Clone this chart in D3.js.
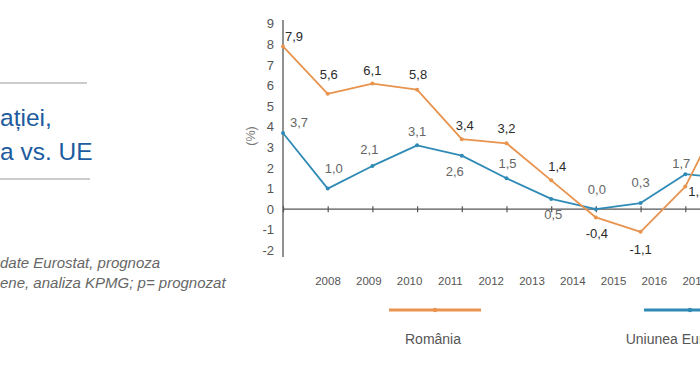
<!DOCTYPE html>
<html><head><meta charset="utf-8">
<script src="https://cdn.jsdelivr.net/npm/d3@7"></script>
<style>
html,body{margin:0;padding:0;background:#fff;overflow:hidden;}
svg{display:block;font-family:"Liberation Sans",Arial,sans-serif;}
</style></head>
<body>
<svg id="c" width="700" height="368"></svg>
<script>
// ---- data ----
const years = [2008, 2009, 2010, 2011, 2012, 2013, 2014, 2015, 2016, 2017, 2018];
const romania = [7.9, 5.6, 6.1, 5.8, 3.4, 3.2, 1.4, -0.4, -1.1, 1.1, 5.4];
const eu = [3.7, 1.0, 2.1, 3.1, 2.6, 1.5, 0.5, 0.0, 0.3, 1.7, 1.5];
const yTicks = [-2, -1, 0, 1, 2, 3, 4, 5, 6, 7, 8, 9];
const xTickLabels = ["2008", "2009", "2010", "2011", "2012", "2013", "2014", "2015", "2016", "2017"];
const titleLines = ["ației,", "a vs. UE"];
const sourceLines = ["date Eurostat, prognoza", "ene, analiza KPMG; p= prognozat"];
const seriesNames = ["România", "Uniunea Europeană"];

// ---- label placement (layout only) ----
const roLabelPos = [[11,-10],[1,-19],[0,-13],[1,-15],[3,-14],[0,-15],[6,-14],[1,16],[0,18],[12,5],[0,-14]];
const euLabelPos = [[16,-11],[6,-20],[-3,-16],[0,-14],[-7,16],[1,-15],[2,16],[1,-20],[0,-21],[-4,-11],[0,-14]];

const fmt = v => d3.format(".1f")(v).replace(".", ",").replace("−", "-");

const svg = d3.select("#c");
const ORANGE = "#E8934E", BLUE = "#2F8BB6";

const x = d3.scalePoint().domain(years).range([283, 283 + 44.7 * 10]);
const y = d3.scaleLinear().domain([-2, 9]).range([250.4, 23.8]);
const xl = d3.scalePoint().domain(xTickLabels).range([328, 328 + 40.8 * 9]);

// left title block
svg.append("line").attr("x1", 0).attr("x2", 87).attr("y1", 83).attr("y2", 83).attr("stroke", "#9a9a9a").attr("stroke-width", 1.2);
svg.append("line").attr("x1", 0).attr("x2", 90).attr("y1", 179).attr("y2", 179).attr("stroke", "#9a9a9a").attr("stroke-width", 1.2);
svg.selectAll("text.title").data(titleLines).join("text").attr("class", "title")
  .attr("x", 0).attr("y", (d, i) => 126 + i * 34)
  .attr("font-size", 24.5).attr("fill", "#1D5C9E").text(d => d);
svg.selectAll("text.src").data(sourceLines).join("text").attr("class", "src")
  .attr("x", 0).attr("y", (d, i) => 268 + i * 20)
  .attr("font-size", 15).attr("font-style", "italic").attr("fill", "#666").text(d => d);

// y axis
const yAxis = d3.axisLeft(y).tickValues(yTicks).tickSize(0).tickPadding(9).tickFormat(d => d3.format("d")(d).replace("−", "-"));
const gy = svg.append("g").attr("transform", "translate(283,0)").call(yAxis);
gy.select(".domain").remove();
gy.selectAll("text").attr("font-size", 13).attr("fill", "#555").attr("font-family", "Liberation Sans, Arial, sans-serif");
svg.append("line").attr("x1", 283).attr("x2", 283).attr("y1", 20).attr("y2", 257).attr("stroke", "#555").attr("stroke-width", 1.3);
svg.append("text").attr("transform", "translate(255,136) rotate(-90)").attr("text-anchor", "middle")
  .attr("font-size", 12.5).attr("fill", "#777").text("(%)");

// zero axis with ticks
const gx = svg.append("g").attr("transform", `translate(0,${y(0)})`)
  .call(d3.axisBottom(x).tickSizeInner(3).tickSizeOuter(0).tickFormat(""));
gx.select(".domain").attr("d", `M283,0H700`).attr("stroke", "#555").attr("stroke-width", 1.3);
gx.selectAll(".tick line").attr("y1", -3).attr("y2", 3).attr("stroke", "#555").attr("stroke-width", 1.2);

// year labels
svg.selectAll("text.yr").data(xTickLabels).join("text").attr("class", "yr")
  .attr("x", d => xl(d)).attr("y", 285).attr("text-anchor", "middle")
  .attr("font-size", 11.5).attr("fill", "#555").text(d => d);

// lines
const line = d3.line().x((d, i) => x(years[i])).y(d => y(d));
function drawSeries(vals, color, labelPos, labelColor) {
  svg.append("path").datum(vals).attr("d", line).attr("fill", "none")
    .attr("stroke", color).attr("stroke-width", 1.8).attr("stroke-linejoin", "round");
  svg.append("g").selectAll("circle").data(vals).join("circle")
    .attr("cx", (d, i) => x(years[i])).attr("cy", d => y(d)).attr("r", 2).attr("fill", color);
  svg.append("g").selectAll("text").data(vals).join("text")
    .attr("x", (d, i) => x(years[i]) + labelPos[i][0])
    .attr("y", (d, i) => y(d) + labelPos[i][1])
    .attr("dy", "0.35em").attr("text-anchor", "middle")
    .attr("font-size", 13).attr("fill", labelColor).text(d => fmt(d));
}
drawSeries(eu, BLUE, euLabelPos, "#666");
drawSeries(romania, ORANGE, roLabelPos, "#2b2b2b");

// legend
const legendX = [435, 690];
const legendColors = [ORANGE, BLUE];
seriesNames.forEach((n, i) => {
  svg.append("line").attr("x1", legendX[i] - 46).attr("x2", legendX[i] + 46).attr("y1", 310).attr("y2", 310)
    .attr("stroke", legendColors[i]).attr("stroke-width", 3);
  svg.append("circle").attr("cx", legendX[i]).attr("cy", 310).attr("r", 2.2).attr("fill", legendColors[i]);
  svg.append("text").attr("x", legendX[i] - 2).attr("y", 344).attr("text-anchor", "middle")
    .attr("font-size", 14).attr("fill", "#555").text(n);
});
</script>
</body></html>
